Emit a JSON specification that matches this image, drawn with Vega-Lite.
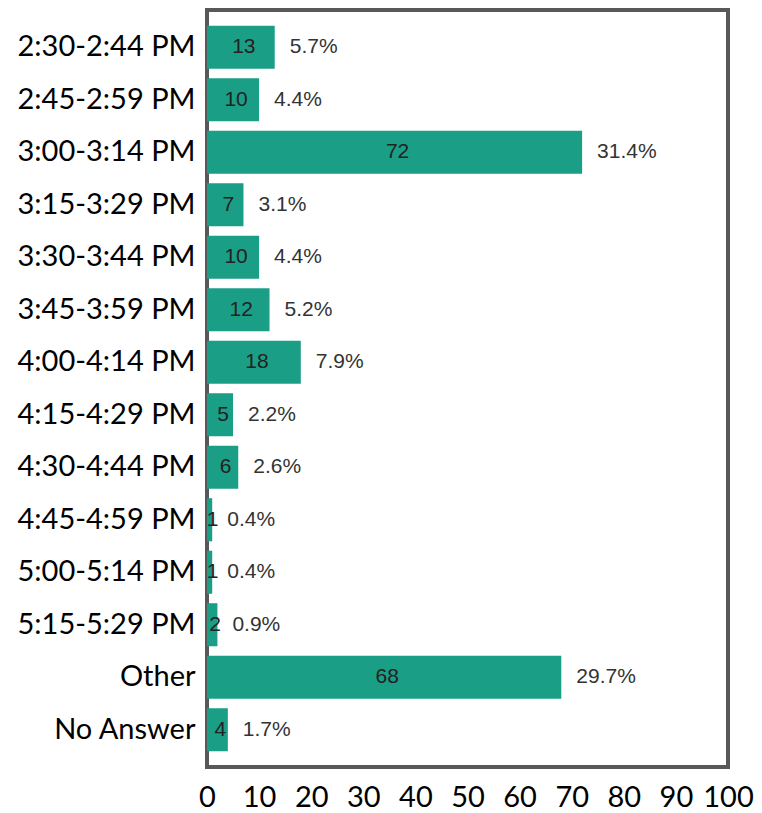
{
  "$schema": "https://vega.github.io/schema/vega-lite/v6.json",
  "autosize": "none",
  "padding": {"left": 207, "top": 10, "right": 34, "bottom": 46},
  "width": 521,
  "height": 757,
  "background": "white",
  "config": {
    "view": {"stroke": "#585858", "strokeWidth": 4},
    "axis": {"labelFont": "Lato", "labelColor": "#000000", "labelFontSize": 29, "ticks": false, "domain": false, "grid": false, "title": null}
  },
  "data": {
    "values": [
      {"slot": "2:30-2:44 PM", "count": 13, "pctLabel": "5.7%"},
      {"slot": "2:45-2:59 PM", "count": 10, "pctLabel": "4.4%"},
      {"slot": "3:00-3:14 PM", "count": 72, "pctLabel": "31.4%"},
      {"slot": "3:15-3:29 PM", "count": 7, "pctLabel": "3.1%"},
      {"slot": "3:30-3:44 PM", "count": 10, "pctLabel": "4.4%"},
      {"slot": "3:45-3:59 PM", "count": 12, "pctLabel": "5.2%"},
      {"slot": "4:00-4:14 PM", "count": 18, "pctLabel": "7.9%"},
      {"slot": "4:15-4:29 PM", "count": 5, "pctLabel": "2.2%"},
      {"slot": "4:30-4:44 PM", "count": 6, "pctLabel": "2.6%"},
      {"slot": "4:45-4:59 PM", "count": 1, "pctLabel": "0.4%"},
      {"slot": "5:00-5:14 PM", "count": 1, "pctLabel": "0.4%"},
      {"slot": "5:15-5:29 PM", "count": 2, "pctLabel": "0.9%"},
      {"slot": "Other", "count": 68, "pctLabel": "29.7%"},
      {"slot": "No Answer", "count": 4, "pctLabel": "1.7%"}
    ]
  },
  "encoding": {
    "y": {
      "field": "slot", "type": "nominal", "sort": null,
      "scale": {"paddingInner": 0.18, "paddingOuter": 0.3},
      "axis": {"labelPadding": 12}
    }
  },
  "layer": [
    {
      "mark": {"type": "bar", "color": "#1b9e86"},
      "encoding": {
        "x": {"field": "count", "type": "quantitative", "scale": {"domain": [0, 100], "nice": false}, "axis": {"values": [0,10,20,30,40,50,60,70,80,90,100], "labelPadding": 16, "labelFlush": false}}
      }
    },
    {
      "mark": {"type": "text", "font": "Liberation Sans", "fontSize": 21, "color": "#222222", "align": "center", "dx": 3},
      "encoding": {
        "x": {"field": "count", "type": "quantitative", "scale": {"domain": [0, 200], "nice": false}, "axis": null},
        "text": {"field": "count", "type": "quantitative"}
      }
    },
    {
      "mark": {"type": "text", "font": "Liberation Sans", "fontSize": 21, "color": "#333333", "align": "left", "dx": 15},
      "encoding": {
        "x": {"field": "count", "type": "quantitative", "scale": {"domain": [0, 100], "nice": false}, "axis": null},
        "text": {"field": "pctLabel", "type": "nominal"}
      }
    }
  ],
  "resolve": {"scale": {"x": "independent"}}
}
